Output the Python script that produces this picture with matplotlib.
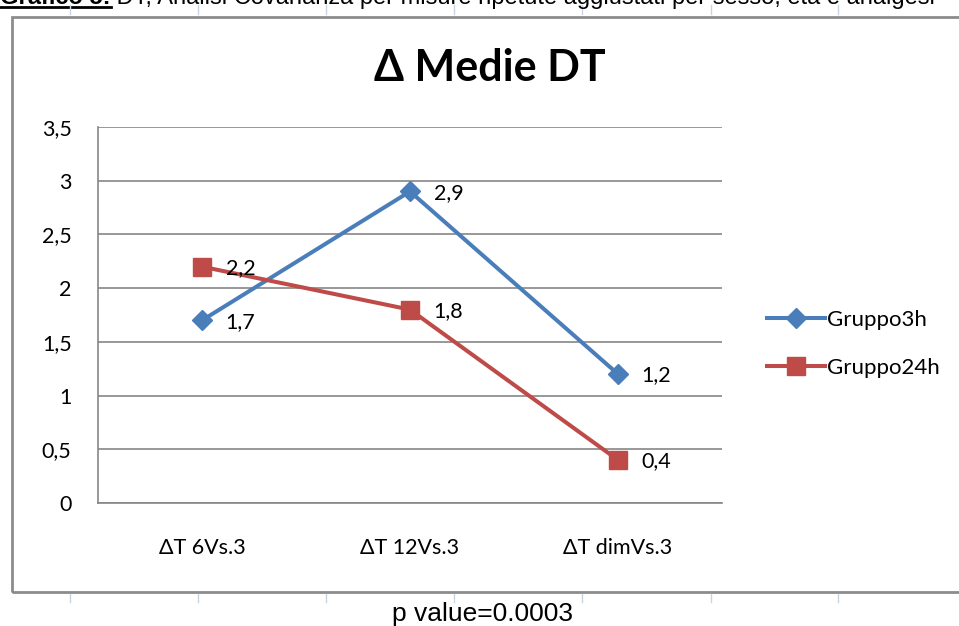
import matplotlib
matplotlib.use("Agg")
import matplotlib.pyplot as plt
from matplotlib.lines import Line2D
from matplotlib.patches import Rectangle

# data
categories = ["ΔT 6Vs.3", "ΔT 12Vs.3", "ΔT dimVs.3"]
gruppo3h = [1.7, 2.9, 1.2]
gruppo24h = [2.2, 1.8, 0.4]
yticks = [0, 0.5, 1, 1.5, 2, 2.5, 3, 3.5]
series = [("Gruppo3h", gruppo3h, "#4A7EBB", "D", 10),
          ("Gruppo24h", gruppo24h, "#BE4B48", "s", 12.5)]

W, H = 959, 626
fig = plt.figure(figsize=(W / 100, H / 100), dpi=100)
CH = "Lato"
DOC = "Liberation Sans"
FS = 15.5
LW = 2.9

# caption of the document at the very top (cut by the page edge, as in the screenshot)
cap = fig.text(0.0, 1 - 4 / H, "Grafico 5:", fontsize=17, fontweight="bold",
               family=DOC, va="baseline", ha="left")
fig.canvas.draw()
bb = cap.get_window_extent()
fig.add_artist(Line2D([bb.x0 / W, bb.x1 / W], [1 - 7 / H, 1 - 7 / H],
                      color="black", lw=2, transform=fig.transFigure))
fig.text(bb.x1 / W, 1 - 4 / H,
         " DT, Analisi Covarianza per misure ripetute aggiustati per sesso, età e analgesi",
         fontsize=17, family=DOC, va="baseline", ha="left")

# ruler ticks of the document page
for x in [70, 198, 326, 454, 582, 711, 838]:
    fig.add_artist(Line2D([x / W, x / W], [1 - 5 / H, 1 - 14 / H],
                          color="#C9D3E3", lw=1, transform=fig.transFigure))
    fig.add_artist(Line2D([x / W, x / W], [1 - 594 / H, 1 - 602 / H],
                          color="#C9D3E3", lw=1, transform=fig.transFigure))

# chart area border
fig.add_artist(Rectangle((12 / W, 1 - 592 / H), 1.0, (592 - 17) / H,
                         fill=False, ec="#8C8C8C", lw=2, transform=fig.transFigure))

# plot area
left, right, top, bottom = 98, 722, 127, 503
ax = fig.add_axes([left / W, 1 - bottom / H, (right - left) / W, (bottom - top) / H])
x = range(len(categories))
for name, vals, col, mk, ms in series:
    ax.plot(x, vals, color=col, lw=LW, marker=mk, markersize=ms, label=name, zorder=3,
            clip_on=False)
    for xi, v in zip(x, vals):
        ax.annotate(f"{v:.1f}".replace(".", ","), (xi, v), xytext=(17, -1),
                    textcoords="offset points", ha="left", va="center",
                    fontsize=FS, family=CH, zorder=4)

ax.set_xlim(-0.5, len(categories) - 0.5)
ax.set_ylim(0, 3.5)
ax.set_yticks(yticks)
ax.set_yticklabels([f"{t:g}".replace(".", ",") for t in yticks], family=CH, fontsize=FS)
ax.set_xticks(list(x))
ax.set_xticklabels(categories, family=CH, fontsize=FS)
ax.tick_params(axis="y", length=0, pad=19)
ax.tick_params(axis="x", length=0, pad=25)
ax.grid(axis="y", color="#868686", lw=1.2)
ax.set_axisbelow(True)
for s in ["top", "right"]:
    ax.spines[s].set_visible(False)
for s in ["left", "bottom"]:
    ax.spines[s].set_color("#868686")
    ax.spines[s].set_linewidth(1.2)

fig.text(490 / W, 1 - 68 / H, "Δ Medie DT", fontsize=31, fontweight="bold",
         family=CH, ha="center", va="center")

# legend
handles = [Line2D([], [], color=c, lw=LW, marker=m, markersize=ms) for _, _, c, m, ms in series]
fig.legend(handles, [s[0] for s in series], loc="center left",
           bbox_to_anchor=(747 / W, 1 - 344 / H), frameon=False,
           prop={"family": CH, "size": 16}, handlelength=2.6, handletextpad=0.1,
           labelspacing=1.25)

fig.text(482 / W, 1 - 614 / H, "p value=0.0003", fontsize=19, family=DOC,
         ha="center", va="center")

fig.savefig("out.png", dpi=100)
